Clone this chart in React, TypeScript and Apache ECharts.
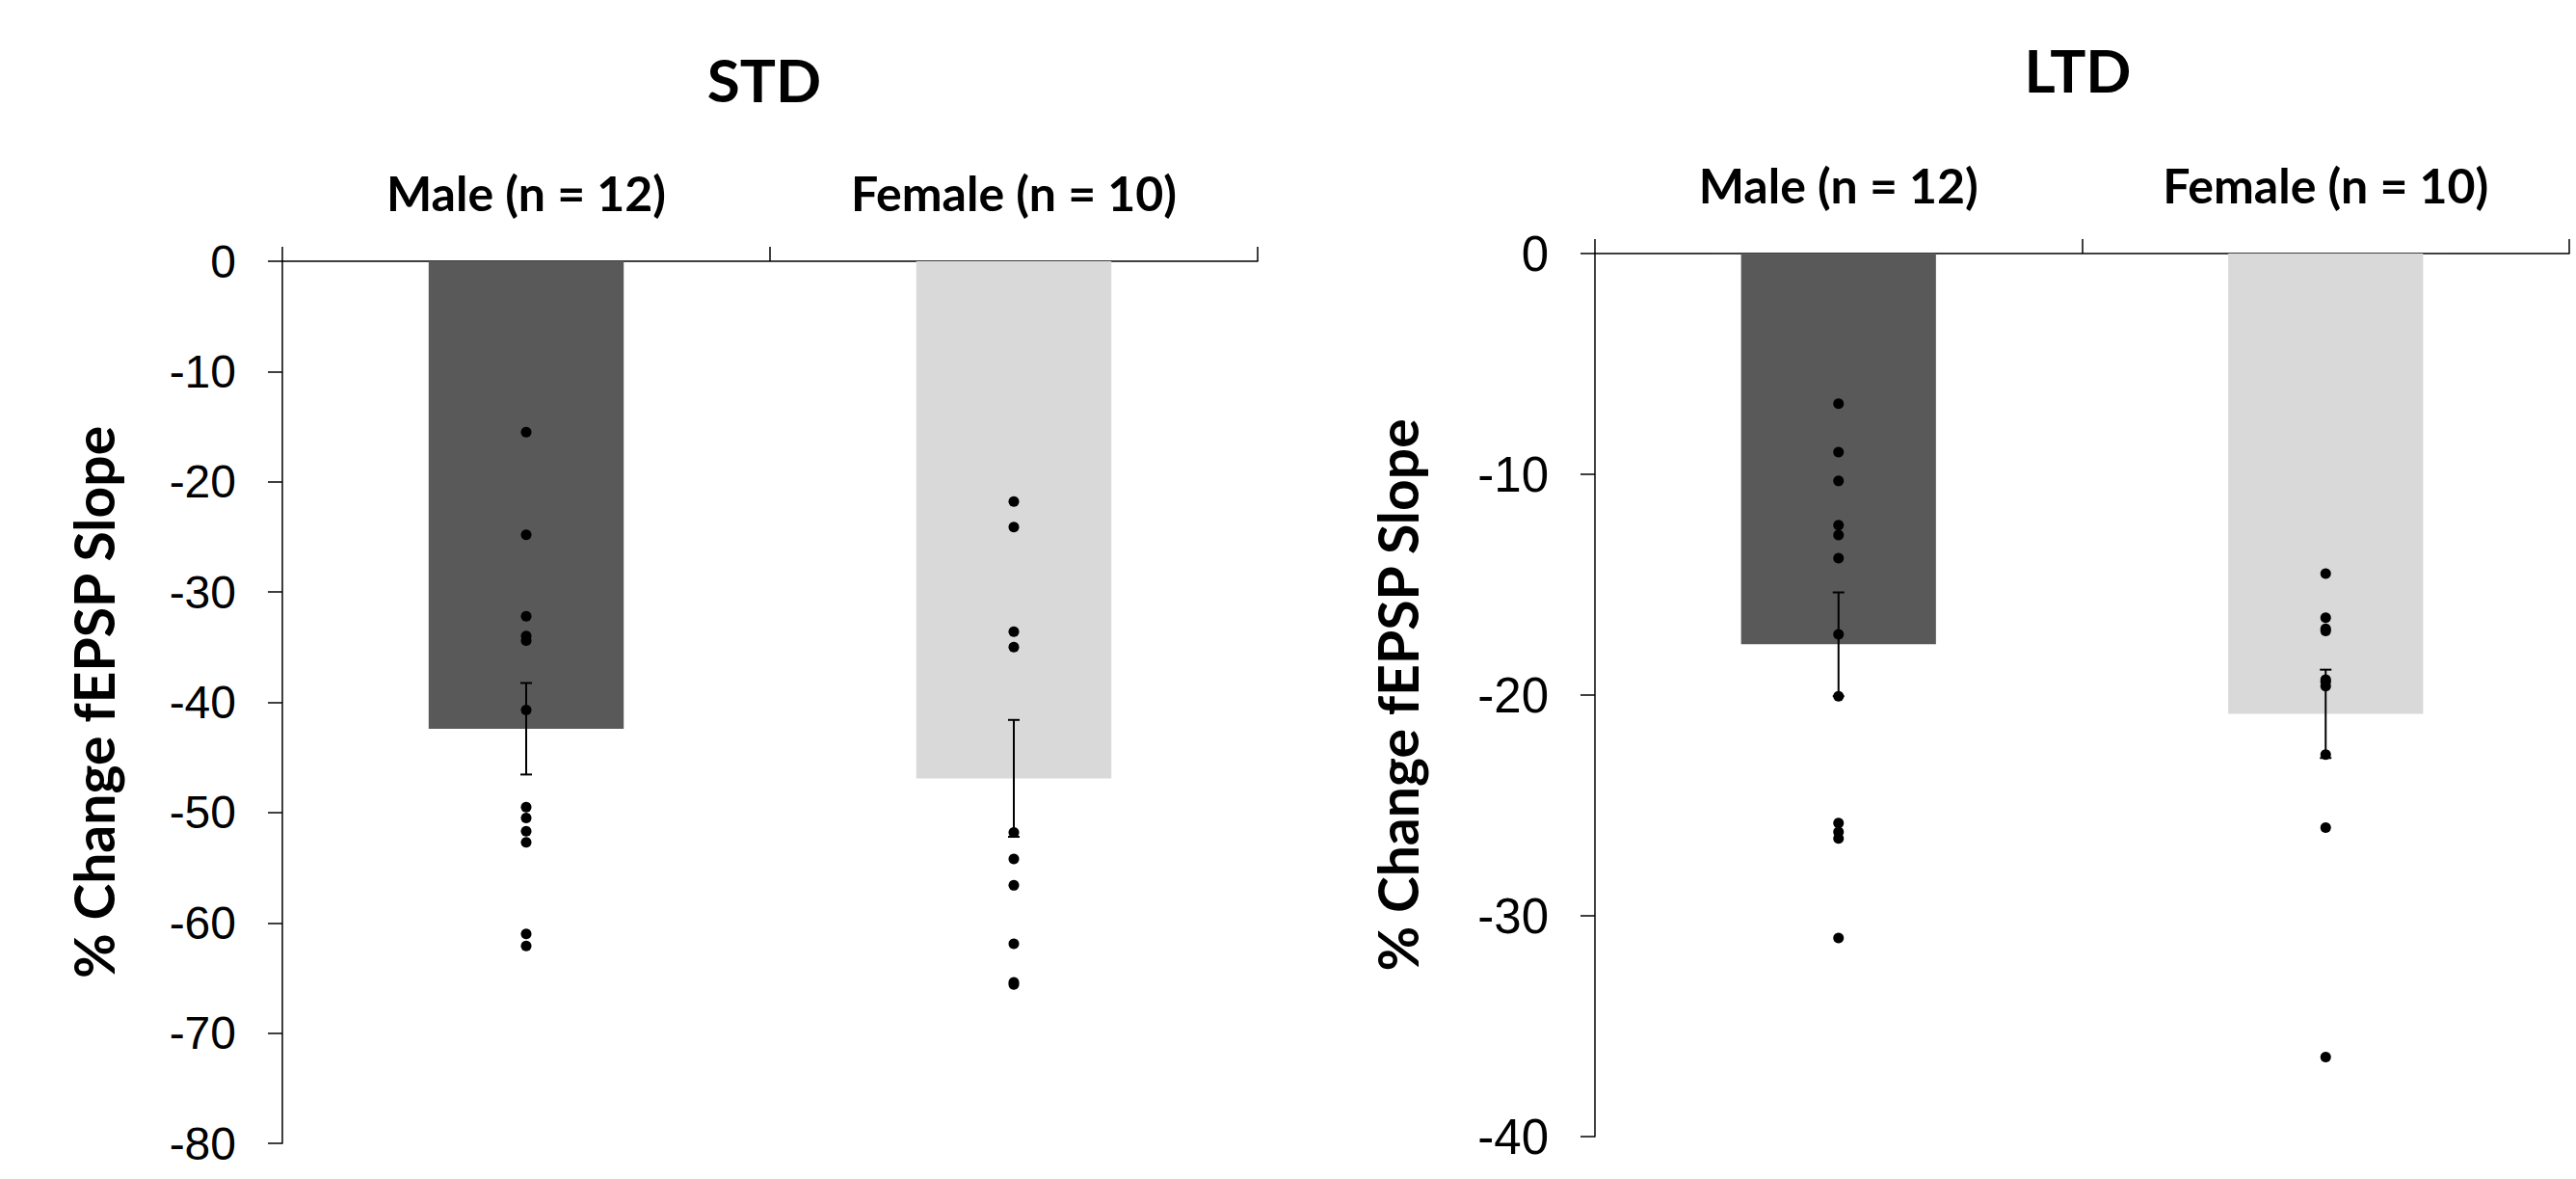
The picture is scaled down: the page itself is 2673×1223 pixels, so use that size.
import React, { useEffect, useRef } from "react";
import * as echarts from "echarts";

const categories = ["Male (n = 12)", "Female (n = 10)"];
const stdTicks = { min: -80, max: 0, interval: 10 };
const ltdTicks = { min: -40, max: 0, interval: 10 };

const stdMeans = [-42.4, -46.9];
const stdSem = [4.15, 5.3];
const ltdMeans = [-17.7, -20.85];
const ltdSem = [2.35, 2.0];

const stdMale = [-15.5, -24.8, -32.2, -34.0, -34.4, -40.7, -49.5, -50.5, -51.7, -52.7, -61.0, -62.1];
const stdFemale = [-21.8, -24.1, -33.6, -35.0, -51.8, -54.2, -56.6, -61.9, -65.4, -65.6];
const ltdMale = [-6.8, -9.0, -10.3, -12.3, -12.75, -13.8, -17.25, -20.05, -25.8, -26.2, -26.5, -31.0];
const ltdFemale = [-14.5, -16.5, -17.0, -17.1, -19.3, -19.4, -19.6, -22.7, -26.0, -36.4];

const barColors = ["#595959", "#D9D9D9"];
const boldFont = "Lato";
const tickFont = "Liberation Sans";

function errorRender(params: any, api: any) {
  const x = api.value(0);
  const m = api.value(1);
  const s = api.value(2);
  const top = api.coord([x, m + s]);
  const bot = api.coord([x, m - s]);
  const cap = 6;
  const style = { stroke: "#000", lineWidth: 2 };
  return {
    type: "group",
    children: [
      { type: "line", shape: { x1: top[0], y1: top[1], x2: bot[0], y2: bot[1] }, style },
      { type: "line", shape: { x1: top[0] - cap, y1: top[1], x2: top[0] + cap, y2: top[1] }, style },
      { type: "line", shape: { x1: bot[0] - cap, y1: bot[1], x2: bot[0] + cap, y2: bot[1] }, style },
    ],
  };
}

function makeX(gridIndex: number) {
  return {
    type: "category",
    gridIndex,
    data: categories,
    position: "top",
    axisLine: { show: true, onZero: false, lineStyle: { color: "#000", width: 1.5 } },
    axisTick: { show: true, length: 15, inside: false, lineStyle: { color: "#000", width: 1.5 } },
    axisLabel: {
      margin: 46,
      color: "#000",
      fontFamily: boldFont,
      fontWeight: "bold",
      fontSize: 50,
    },
    splitLine: { show: false },
  };
}

function makeY(gridIndex: number, t: any, fontSize: number, nameGap: number) {
  return {
    type: "value",
    gridIndex,
    min: t.min,
    max: t.max,
    interval: t.interval,
    name: "% Change fEPSP Slope",
    nameLocation: "middle",
    nameGap,
    nameTextStyle: {
      color: "#000",
      fontFamily: boldFont,
      fontWeight: "bold",
      fontSize: 57,
    },
    axisLine: { show: true, lineStyle: { color: "#000", width: 1.5 } },
    axisTick: { show: true, length: 15, inside: false, lineStyle: { color: "#000", width: 1.5 } },
    axisLabel: {
      margin: 48,
      color: "#000",
      fontFamily: tickFont,
      fontSize,
    },
    splitLine: { show: false },
  };
}

function scatterData(vals: number[], idx: number) {
  return vals.map((v) => [idx, v]);
}

export default function App() {
  const ref = useRef<HTMLDivElement>(null);
  useEffect(() => {
    document.body.style.margin = "0";
    const chart = echarts.init(ref.current!, null, { renderer: "svg" });
    const grids = [
      { left: 293, top: 271, width: 1012, height: 915 },
      { left: 1655, top: 263, width: 1011, height: 916 },
    ];
    const sets = [
      { means: stdMeans, sem: stdSem, male: stdMale, female: stdFemale },
      { means: ltdMeans, sem: ltdSem, male: ltdMale, female: ltdFemale },
    ];
    const series: any[] = [];
    sets.forEach((s, g) => {
      series.push({
        type: "bar",
        xAxisIndex: g,
        yAxisIndex: g,
        barWidth: "40%",
        data: s.means.map((v, i) => ({ value: v, itemStyle: { color: barColors[i] } })),
        z: 1,
      });
      series.push({
        type: "custom",
        xAxisIndex: g,
        yAxisIndex: g,
        renderItem: errorRender,
        data: s.means.map((v, i) => [i, v, s.sem[i]]),
        z: 2,
      });
      series.push({
        type: "scatter",
        xAxisIndex: g,
        yAxisIndex: g,
        symbol: "circle",
        symbolSize: 11,
        itemStyle: { color: "#000", opacity: 1 },
        data: [...scatterData(s.male, 0), ...scatterData(s.female, 1)],
        z: 3,
      });
    });
    chart.setOption({
      animation: false,
      backgroundColor: "#fff",
      grid: grids,
      xAxis: [makeX(0), makeX(1)],
      yAxis: [makeY(0, stdTicks, 48, 168), makeY(1, ltdTicks, 51, 177)],
      graphic: [
        {
          type: "text",
          x: 793,
          y: 82,
          style: { text: "STD", align: "center", verticalAlign: "middle", fill: "#000", font: `bold 62px ${boldFont}` },
        },
        {
          type: "text",
          x: 2156,
          y: 72,
          style: { text: "LTD", align: "center", verticalAlign: "middle", fill: "#000", font: `bold 62px ${boldFont}` },
        },
      ],
      series,
    });
    return () => chart.dispose();
  }, []);
  return (
    <div
      ref={ref}
      style={{ position: "fixed", left: 0, top: 0, width: 2673, height: 1223, background: "#fff" }}
    />
  );
}
